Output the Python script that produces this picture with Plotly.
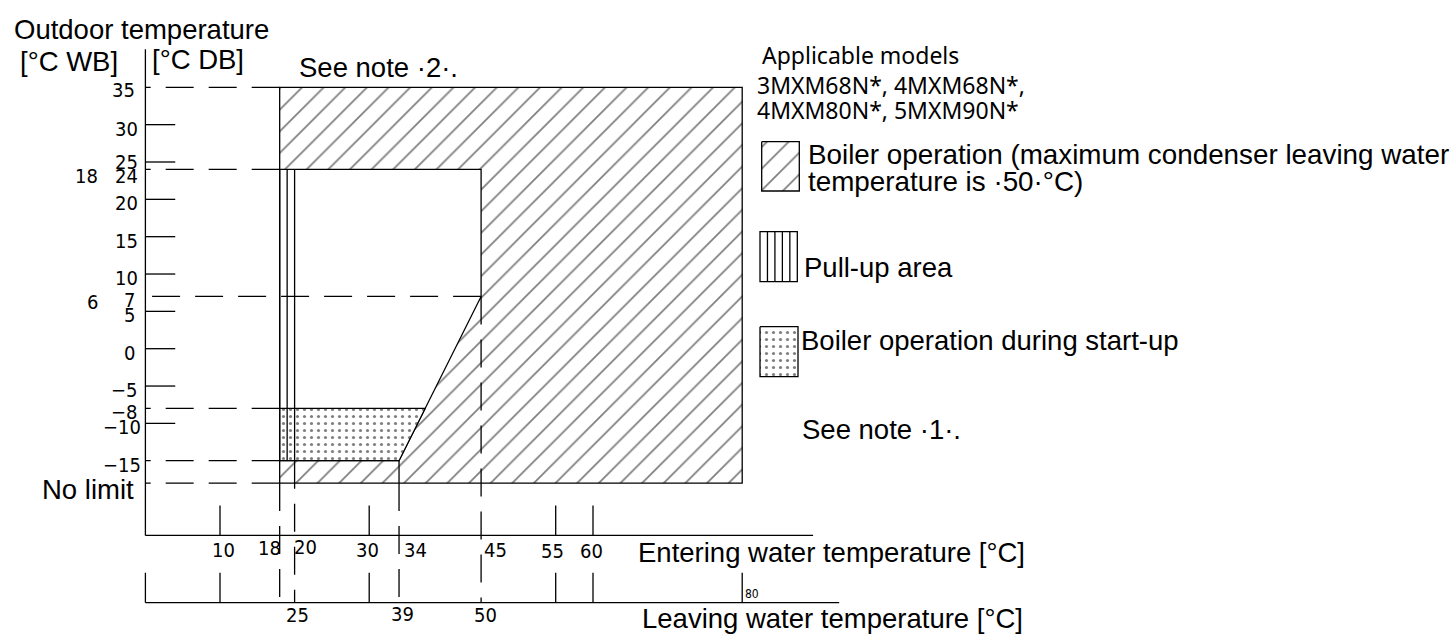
import plotly.graph_objects as go

# ---------------- data ----------------
# Outdoor temperature, dry bulb [°C DB]
db_tick_vals = [30, 25, 20, 15, 10, 5, 0, -5, -10]
db_label_vals = [35, 30, 25, 24, 20, 15, 10, 7, 5, 0, -5, -8, -10, -15]
db_guides = [35, 24, -8, -15]          # dashed guides ending at 18 °C entering
db_guide_7 = 7                          # dashed guide ending at 45 °C entering
no_limit_db = -18
# wet bulb labels and the DB level they belong to
wb_labels = ["18", "6"]
wb_at_db = [24, 7]

# Entering water temperature [°C]
ent_tick_solid = [10, 30, 55, 60]
ent_label_vals = [10, 18, 20, 30, 34, 45, 55, 60]
ent_guides = [18, 20, 34, 45]
# Leaving water temperature [°C] (labels sit at these entering positions)
lv_tick_solid = [10, 30, 55, 60, 80]
lv_label_text = ["25", "39", "50", "80"]
lv_label_pos = [20, 34, 45, 80]

# Regions (x = entering water °C, y = outdoor °C DB)
boiler_x = [18, 80, 80, 18]
boiler_y = [-18, -18, 35, 35]
normal_x = [18, 45, 45, 34, 18]
normal_y = [24, 24, 7, -15, -15]
startup_x = [18, 37.5, 34, 18]
startup_y = [-8, -8, -15, -15]
pullup_x = [18, 19, 20]
pullup_y = [-15, 24]

# ---------------- layout constants ----------------
W, H = 1456, 636
X0_PX, X_PER = 145.4, 7.46     # pixel of 0 °C and px per °C (horizontal)
Y0_PX, Y_PER = 348.7, 7.468    # pixel of 0 °C and px per °C (vertical)
ENT_AXIS_Y = -25
LV_AXIS_Y = -34
Y_AXIS_TOP = 40.1
ENT_AXIS_END = 89.5
LV_AXIS_END = 93
TICK = 4
LW = 1.3
DASH = "28px,15px"
HATCH = dict(shape="/", size=15.3, solidity=0.115, fgcolor="black", bgcolor="white")
DOTS = dict(shape=".", size=7, solidity=0.16, fgcolor="black", bgcolor="white")

F_MAIN = "Liberation Sans, Arial, Helvetica, sans-serif"
F_NUM = "Liberation Sans Narrow, Arial Narrow, DejaVu Sans Condensed, sans-serif"
F_MODEL = "Noto Sans, Open Sans, sans-serif"

x_range = [(0 - X0_PX) / X_PER, (W - X0_PX) / X_PER]
y_range = [(Y0_PX - H) / Y_PER, (Y0_PX - 0) / Y_PER]


def dx(px):
    return (px - X0_PX) / X_PER


def dy(py):
    return (Y0_PX - py) / Y_PER


def pxp(px):
    return px / W


def pyp(py):
    return 1 - py / H


shapes = []


def seg(x0, y0, x1, y1, dash="solid", ref="x", width=LW):
    yref = "y" if ref == "x" else "paper"
    shapes.append(dict(type="line", xref=ref, yref=yref, x0=x0, y0=y0, x1=x1, y1=y1,
                       line=dict(color="black", width=width, dash=dash), layer="above"))


fig = go.Figure()


def closed(a):
    return list(a) + [a[0]]


# boiler operation region (hatched)
fig.add_trace(go.Scatter(
    x=closed(boiler_x), y=closed(boiler_y), mode="lines", fill="toself",
    fillcolor="white", line=dict(color="black", width=LW), fillpattern=HATCH,
    hoverinfo="skip"))
# normal operation (white) region
fig.add_trace(go.Scatter(
    x=closed(normal_x), y=closed(normal_y), mode="lines", fill="toself",
    fillcolor="white", line=dict(color="black", width=LW), hoverinfo="skip"))
# boiler operation during start-up (dotted)
fig.add_trace(go.Scatter(
    x=closed(startup_x), y=closed(startup_y), mode="lines", fill="toself",
    fillcolor="white", line=dict(color="black", width=LW), fillpattern=DOTS,
    hoverinfo="skip"))

# pull-up area lines
for xv in pullup_x:
    seg(xv, pullup_y[0], xv, pullup_y[1])

# legend swatches (patterned)
sw1 = (761.7, 141.7, 799.3, 191.0)
sw3 = (760.0, 326.7, 798.0, 376.7)
for (a, b, c, d), pat in [(sw1, HATCH), (sw3, DOTS)]:
    fig.add_trace(go.Scatter(
        x=[dx(a), dx(c), dx(c), dx(a), dx(a)], y=[dy(b), dy(b), dy(d), dy(d), dy(b)],
        mode="lines", fill="toself", fillcolor="white", line=dict(color="black", width=LW),
        fillpattern=pat, hoverinfo="skip"))
# pull-up swatch
sw2 = (760.0, 231.7, 797.3, 281.7)
shapes.append(dict(type="rect", xref="paper", yref="paper", x0=pxp(sw2[0]), x1=pxp(sw2[2]),
                   y0=pyp(sw2[1]), y1=pyp(sw2[3]), line=dict(color="black", width=LW),
                   fillcolor="white", layer="above"))
step = (sw2[2] - sw2[0]) / 5
for k in range(1, 5):
    xp = pxp(sw2[0] + k * step)
    seg(xp, pyp(sw2[1]), xp, pyp(sw2[3]), ref="paper")

# axes
seg(0, ENT_AXIS_Y, 0, Y_AXIS_TOP)
seg(0, ENT_AXIS_Y, ENT_AXIS_END, ENT_AXIS_Y)
seg(0, LV_AXIS_Y, LV_AXIS_END, LV_AXIS_Y)
seg(0, LV_AXIS_Y, 0, LV_AXIS_Y + TICK)
for v in db_tick_vals:
    seg(0, v, TICK, v)
for v in ent_tick_solid:
    seg(v, ENT_AXIS_Y, v, ENT_AXIS_Y + TICK)
for v in lv_tick_solid:
    seg(v, LV_AXIS_Y, v, LV_AXIS_Y + TICK)

# dashed guides
for v in db_guides + [no_limit_db]:
    seg(boiler_x[0], v, 0, v, dash=DASH)
seg(normal_x[1], db_guide_7, 0, db_guide_7, dash=DASH)
seg(ent_guides[0], no_limit_db, ent_guides[0], LV_AXIS_Y, dash=DASH)
seg(ent_guides[1], startup_y[2], ent_guides[1], LV_AXIS_Y, dash=DASH)
seg(ent_guides[2], startup_y[2], ent_guides[2], no_limit_db)
seg(ent_guides[2], no_limit_db, ent_guides[2], LV_AXIS_Y, dash=DASH)
seg(ent_guides[3], db_guide_7, ent_guides[3], LV_AXIS_Y, dash=DASH)

ann = []


def text(t, x, y, size=27.5, family=F_MAIN, xanchor="left", xref="paper", yref="paper",
         xshift=0, yshift=0):
    ann.append(dict(text=t, x=x, y=y, xref=xref, yref=yref, xanchor=xanchor, yanchor="middle",
                    showarrow=False, xshift=xshift, yshift=yshift,
                    font=dict(family=family, size=size, color="black")))


# DB labels: pixel nudges (down, right) per label
db_nudge = {35: (3, -3), 25: (0, 0), 24: (7, 0), 7: (4, -3), 5: (4, -3), 0: (4, -3),
            -10: (4, 3), -15: (4, 3)}
for v in db_label_vals:
    dn, rt = db_nudge.get(v, (4, 0))
    text(str(v).replace("-", "\u2212"), 0, v, size=20, family=F_NUM, xanchor="right",
         xref="x", yref="y", xshift=-5.5 + rt, yshift=-dn)
for lab, v in zip(wb_labels, wb_at_db):
    text(lab, pxp(100), v, size=20, family=F_NUM, xanchor="right", yref="y",
         yshift=-(7 if v == 24 else 6))

ent_nudge = {10: (3.8, 550), 18: (-9.7, 548), 20: (11.2, 547), 30: (-1.9, 550),
             34: (16.8, 550), 45: (14.4, 550), 55: (-3.7, 551), 60: (-1.3, 551)}
for v in ent_label_vals:
    sx, cy = ent_nudge[v]
    text(str(v), v, pyp(cy), size=20, family=F_NUM, xanchor="center", xref="x", xshift=sx)
lv_nudge = {"25": (2.9, 615, 20), "39": (3.5, 614, 20), "50": (4.7, 615, 20), "80": (9.8, 594, 12)}
for t, v in zip(lv_label_text, lv_label_pos):
    sx, cy, fs = lv_nudge[t]
    text(t, v, pyp(cy), size=fs, family=F_NUM, xanchor="center", xref="x", xshift=sx)

text("Outdoor temperature", pxp(12), pyp(29))
text("[°C WB]", pxp(18), pyp(62))
text("[°C DB]", pxp(150), pyp(59.5))
text("See note \u00b72\u00b7.", pxp(297), pyp(67))
text("No limit", pxp(136), pyp(489), xanchor="right")
text("Entering water temperature [°C]", pxp(636), pyp(552))
text("Leaving water temperature [°C]", pxp(640), pyp(618))

text("Applicable models", pxp(760), pyp(55), size=23, family=F_MODEL)
text("3MXM68N*, 4MXM68N*,", pxp(755), pyp(85), size=23, family=F_MODEL)
text("4MXM80N*, 5MXM90N*", pxp(755), pyp(110), size=23, family=F_MODEL)

text("Boiler operation (maximum condenser leaving water", pxp(806), pyp(154), size=27.8)
text("temperature is \u00b750\u00b7°C)", pxp(806), pyp(181), size=27.8)
text("Pull-up area", pxp(802), pyp(267))
text("Boiler operation during start-up", pxp(799), pyp(340))
text("See note \u00b71\u00b7.", pxp(800), pyp(429))

fig.update_layout(
    width=W, height=H, margin=dict(l=0, r=0, t=0, b=0),
    paper_bgcolor="white", plot_bgcolor="white", showlegend=False,
    xaxis=dict(range=x_range, visible=False, fixedrange=True),
    yaxis=dict(range=y_range, visible=False, fixedrange=True),
    shapes=shapes, annotations=ann,
)
fig.write_html("out.html", config={"displayModeBar": False},
               post_script="document.body.style.margin='0px';document.body.style.overflow='hidden';")
